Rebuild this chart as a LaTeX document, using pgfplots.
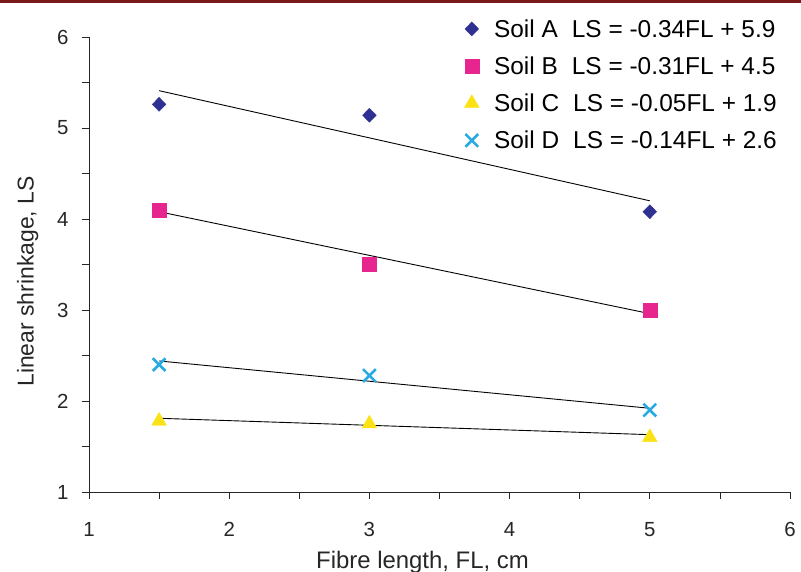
\documentclass[border=0pt]{standalone}
\usepackage{fontspec}
\setmainfont{Liberation Sans}
\usepackage{pgfplots}
\pgfplotsset{compat=1.18}
\definecolor{cA}{HTML}{2E3192}
\definecolor{cB}{HTML}{E6258F}
\definecolor{cC}{HTML}{FBE214}
\definecolor{cD}{HTML}{27AAE1}
\definecolor{topbar}{HTML}{7A1A1A}
\begin{document}
\begin{tikzpicture}[x=1bp,y=1bp]
\path[use as bounding box] (-89,-80) rectangle (712,492);
\fill[topbar] (-89,488.5) rectangle (712,492);
\begin{axis}[
  at={(0,0)}, anchor=south west,
  scale only axis, width=701bp, height=455bp,
  xmin=1, xmax=6, ymin=1, ymax=6,
  axis lines=left, axis line style={-, line width=0.9pt, black!85},
  xtick={1,2,3,4,5,6}, ytick={1,2,3,4,5,6},
  minor xtick={1.5,2.5,3.5,4.5,5.5}, minor ytick={1.5,2.5,3.5,4.5,5.5},
  tick align=outside, major tick length=7bp, minor tick length=7bp,
  tick style={black!85, line width=0.8pt},
  /pgf/number format/assume math mode=true,
  tick label style={font=\fontsize{20.5}{24}\selectfont, text=black!85},
  xticklabel style={yshift=-20bp},
  yticklabel style={xshift=-10bp},
  label style={font=\fontsize{24}{28}\selectfont, text=black!85},
  xlabel={Fibre length, FL, cm},
  ylabel={Linear shrinkage, LS},
  xlabel style={yshift=-7bp, xshift=-17bp},
  ylabel style={yshift=12bp, xshift=-17bp, font=\fontsize{23}{27}\selectfont},
  legend style={draw=none, fill=none, at={(0.531,1.048)}, anchor=north west,
    font=\fontsize{24.5}{28}\selectfont, row sep=14bp,
    /tikz/every odd column/.append style={column sep=13bp}},
  legend cell align=left,
  clip=false,
]
\addplot[only marks, mark=diamond*, mark size=7bp, cA, mark options={fill=cA, draw=cA, xscale=1.3}] coordinates {(1.5,5.26) (3,5.14) (5,4.08)};
\addlegendentry{Soil A\hspace{14bp}LS = -0.34FL + 5.9}
\addplot[only marks, mark=square*, mark size=7bp, cB, mark options={fill=cB, draw=cB}] coordinates {(1.5,4.10) (3,3.50) (5,3.00)};
\addlegendentry{Soil B\hspace{14bp}LS = -0.31FL + 4.5}
\addplot[only marks, mark=triangle*, mark size=8.5bp, cC, mark options={fill=cC, draw=cC}] coordinates {(1.5,1.78) (3,1.75) (5,1.60)};
\addlegendentry{Soil C\hspace{14bp}LS = -0.05FL + 1.9}
\addplot[only marks, mark=x, mark size=9bp, cD, mark options={line width=2.6pt, draw=cD}] coordinates {(1.5,2.40) (3,2.28) (5,1.90)};
\addlegendentry{Soil D\hspace{14bp}LS = -0.14FL + 2.6}
\addplot[black, line width=0.9pt, forget plot] coordinates {(1.5,5.41) (5,4.20)};
\addplot[black, line width=0.9pt, forget plot] coordinates {(1.5,4.08) (5,2.96)};
\addplot[black, line width=0.9pt, forget plot] coordinates {(1.5,1.81) (5,1.63)};
\addplot[black, line width=0.9pt, forget plot] coordinates {(1.5,2.44) (5,1.92)};
\end{axis}
\end{tikzpicture}
\end{document}
